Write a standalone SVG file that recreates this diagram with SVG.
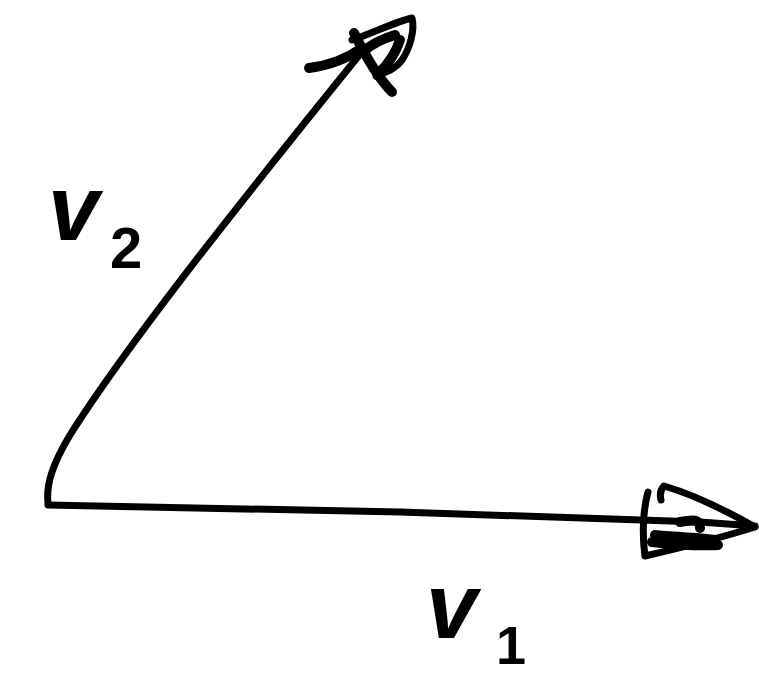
<svg xmlns="http://www.w3.org/2000/svg" width="759" height="678" viewBox="0 0 759 678">
<style>
.s{fill:none;stroke:#000;stroke-width:7;stroke-linecap:round;stroke-linejoin:round}
.h{fill:none;stroke:#000;stroke-width:10;stroke-linecap:round;stroke-linejoin:round}
.lbl{font-family:"Liberation Sans",Arial,sans-serif;fill:#000}
</style>
<rect width="759" height="678" fill="#fff"/>
<g id="connectors">
<path id="v1-line" class="s" d="M48,505 L400,512 L700,522 L755,526"/>
<path id="v2-line" class="s" d="M48,503 C46,485 52,465 70,435 C130,340 250,190 365,48"/>
</g>
<g id="v1-head">
<path class="s" d="M648,492 C643,510 642,535 645,556 C680,548 720,538 755,527 C725,510 695,495 664,486 C660,490 660,496 661,500"/>
<path class="h" d="M655,535 C680,538 700,537 715,540 M652,542 C680,545 700,546 718,545 M680,522 C690,520 700,518 700,528"/>
</g>
<g id="v2-head">
<path class="s" d="M352,40 C375,32 395,22 412,18 C415,30 410,48 402,60 C395,70 385,72 376,76"/>
<path class="h" d="M309,68 C325,66 345,60 362,48 M354,33 C365,55 378,78 392,92 M365,50 C375,42 385,38 395,35 M380,72 C390,62 396,52 400,40"/>
</g>
<g id="label-v2">
<text class="lbl" x="48" y="240" font-size="92" font-style="italic" font-weight="bold">v</text>
<text class="lbl" x="110" y="268" font-size="58" font-weight="bold">2</text>
</g>
<g id="label-v1">
<text class="lbl" x="426" y="638" font-size="92" font-style="italic" font-weight="bold">v</text>
<text class="lbl" x="496" y="664" font-size="54" font-weight="bold">1</text>
</g>
</svg>
